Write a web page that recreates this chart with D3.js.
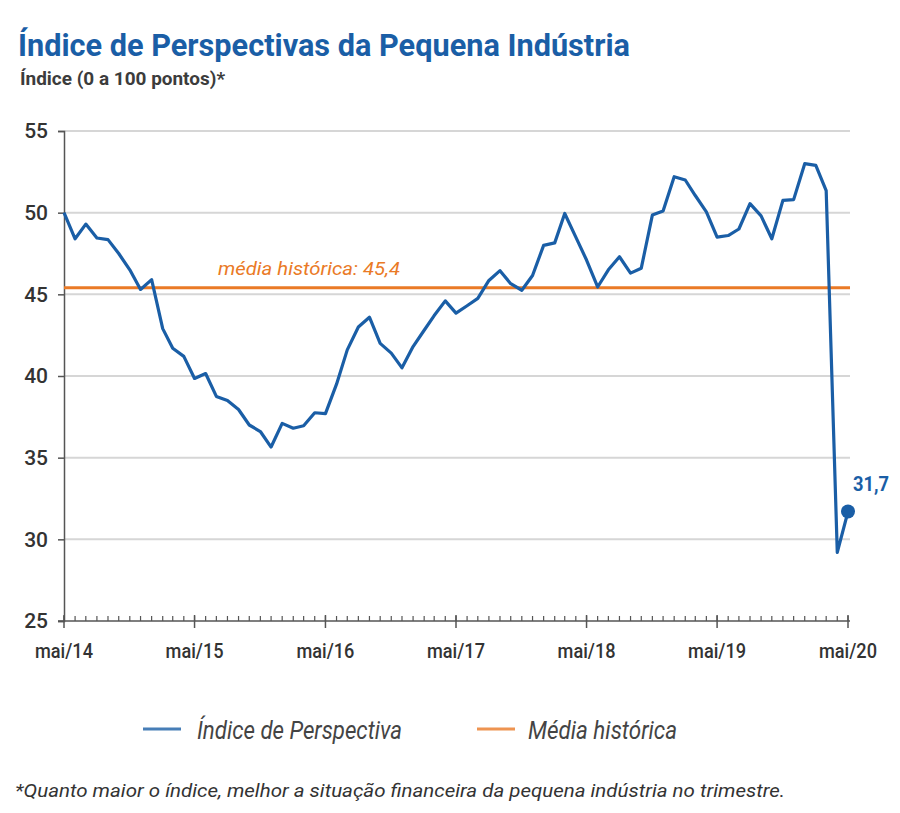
<!DOCTYPE html>
<html>
<head>
<meta charset="utf-8">
<script src="https://cdn.jsdelivr.net/npm/d3@7"></script>
<style>
  body { margin: 0; background: #fff; }
  svg { display: block; font-family: Roboto, "Noto Sans", sans-serif; }
</style>
</head>
<body>
<svg id="chart" width="900" height="813"></svg>
<script>
// ---- Data ----
const startMonth = new Date(2014, 4, 1); // mai/14
const indexValues = [
  50.0, 48.4, 49.3, 48.45, 48.35, 47.5, 46.5, 45.3, 45.9, 42.9,
  41.7, 41.2, 39.85, 40.15, 38.75, 38.5, 37.95, 37.0, 36.6, 35.65,
  37.1, 36.8, 36.95, 37.75, 37.7, 39.5, 41.6, 43.0, 43.6, 42.0,
  41.4, 40.5, 41.8, 42.8, 43.7, 44.6, 43.85, 44.3, 44.75, 45.85,
  46.45, 45.65, 45.25, 46.15, 48.0, 48.15, 49.95, 48.5, 47.1, 45.45,
  46.5, 47.3, 46.3, 46.6, 49.85, 50.1, 52.2, 52.0, 51.05, 50.05,
  48.5, 48.6, 49.0, 50.55, 49.8, 48.4, 50.75, 50.8, 53.0, 52.9,
  51.35, 29.2, 31.7
];
const historicalMean = 45.4;
const yTicks = [25, 30, 35, 40, 45, 50, 55];
const xTickLabels = ["mai/14", "mai/15", "mai/16", "mai/17", "mai/18", "mai/19", "mai/20"];
const seriesNames = ["Índice de Perspectiva", "Média histórica"];
const colors = { index: "#1a5ea6", mean: "#ea7a26" };

const dates = indexValues.map((v, i) => d3.timeMonth.offset(startMonth, i));
const data = indexValues.map((v, i) => ({ date: dates[i], value: v }));

// ---- Layout ----
const svg = d3.select("#chart");
const pLeft = 64, pRight = 848, pTop = 131, pBottom = 621;

const x = d3.scaleTime().domain([dates[0], dates[dates.length - 1]]).range([pLeft, pRight]);
const y = d3.scaleLinear().domain([25, 55]).range([pBottom, pTop]);

// Title
svg.append("text").attr("x", 18).attr("y", 56)
  .attr("font-size", 32).attr("font-weight", 700).attr("fill", "#1a5ea6")
  .attr("textLength", 612).attr("lengthAdjust", "spacingAndGlyphs")
  .text("Índice de Perspectivas da Pequena Indústria");
svg.append("text").attr("x", 20).attr("y", 85)
  .attr("font-size", 19).attr("font-weight", 700).attr("fill", "#3c3c3c")
  .attr("textLength", 205).attr("lengthAdjust", "spacingAndGlyphs")
  .text("Índice (0 a 100 pontos)*");

// Gridlines
svg.append("g").selectAll("line").data(yTicks.filter(t => t > 25)).join("line")
  .attr("x1", pLeft).attr("x2", pRight + 2)
  .attr("y1", d => y(d)).attr("y2", d => y(d))
  .attr("stroke", "#d6d6d6").attr("stroke-width", 2);

// Y axis
const yAxis = svg.append("g").attr("transform", `translate(${pLeft},0)`)
  .call(d3.axisLeft(y).tickValues(yTicks).tickSize(6).tickPadding(10).tickFormat(d3.format("d")));
yAxis.select(".domain").attr("stroke", "#555").attr("stroke-width", 1.5);
yAxis.selectAll(".tick line").attr("stroke", "#555").attr("stroke-width", 1.5);
yAxis.selectAll(".tick text").attr("font-size", 21).attr("font-weight", 500).attr("fill", "#333")
  .attr("font-family", "Roboto, sans-serif");

// X axis: monthly minor ticks, yearly major ticks
const xg = svg.append("g");
xg.append("line").attr("x1", pLeft - 6).attr("x2", pRight + 2)
  .attr("y1", pBottom).attr("y2", pBottom).attr("stroke", "#555").attr("stroke-width", 1.5);
xg.selectAll("line.minor").data(dates).join("line").attr("class", "minor")
  .attr("x1", d => x(d)).attr("x2", d => x(d))
  .attr("y1", pBottom - 5).attr("y2", pBottom)
  .attr("stroke", "#555").attr("stroke-width", 1.2);
const yearDates = dates.filter(d => d.getMonth() === 4);
xg.selectAll("line.major").data(yearDates).join("line").attr("class", "major")
  .attr("x1", d => x(d)).attr("x2", d => x(d))
  .attr("y1", pBottom - 6).attr("y2", pBottom + 7)
  .attr("stroke", "#555").attr("stroke-width", 1.5);
xg.selectAll("text").data(yearDates).join("text")
  .attr("x", d => x(d)).attr("y", pBottom + 37)
  .attr("text-anchor", "middle").attr("font-size", 21).attr("font-weight", 500).attr("fill", "#333")
  .attr("textLength", 58).attr("lengthAdjust", "spacingAndGlyphs")
  .text((d, i) => xTickLabels[i]);

// Historical mean line
svg.append("line").attr("x1", pLeft).attr("x2", pRight + 2)
  .attr("y1", y(historicalMean)).attr("y2", y(historicalMean))
  .attr("stroke", colors.mean).attr("stroke-width", 3);
svg.append("text").attr("x", 218).attr("y", y(historicalMean) - 13)
  .attr("font-size", 18).attr("font-style", "italic").attr("fill", colors.mean)
  .attr("textLength", 182).attr("lengthAdjust", "spacingAndGlyphs")
  .text("média histórica: " + d3.format(".1f")(historicalMean).replace(".", ","));

// Index line
svg.append("path").datum(data)
  .attr("fill", "none").attr("stroke", colors.index).attr("stroke-width", 3.2)
  .attr("stroke-linejoin", "round")
  .attr("d", d3.line().x(d => x(d.date)).y(d => y(d.value)));

// Last point
const last = data[data.length - 1];
svg.append("circle").attr("cx", x(last.date)).attr("cy", y(last.value)).attr("r", 7)
  .attr("fill", colors.index);
svg.append("text").attr("x", x(last.date) + 5).attr("y", y(last.value) - 21)
  .attr("font-size", 20).attr("font-weight", 700).attr("fill", colors.index)
  .attr("textLength", 36).attr("lengthAdjust", "spacingAndGlyphs")
  .text(d3.format(".1f")(last.value).replace(".", ","));

// Legend
const legend = svg.append("g");
const legendItems = [
  { name: seriesNames[0], color: colors.index, lx: 143, tx: 197, w: 205 },
  { name: seriesNames[1], color: colors.mean, lx: 477, tx: 528, w: 149 }
];
legendItems.forEach(it => {
  legend.append("line").attr("x1", it.lx).attr("x2", it.lx + 38).attr("y1", 729).attr("y2", 729)
    .attr("stroke", it.color).attr("stroke-width", 3).attr("opacity", 0.8);
  legend.append("text").attr("x", it.tx).attr("y", 739)
    .attr("font-size", 25).attr("font-style", "italic").attr("fill", "#444")
    .attr("textLength", it.w).attr("lengthAdjust", "spacingAndGlyphs")
    .text(it.name);
});

// Footnote
svg.append("text").attr("x", 15).attr("y", 797)
  .attr("font-size", 19).attr("font-style", "italic").attr("fill", "#333")
  .attr("textLength", 770).attr("lengthAdjust", "spacingAndGlyphs")
  .text("*Quanto maior o índice, melhor a situação financeira da pequena indústria no trimestre.");
</script>
</body>
</html>
